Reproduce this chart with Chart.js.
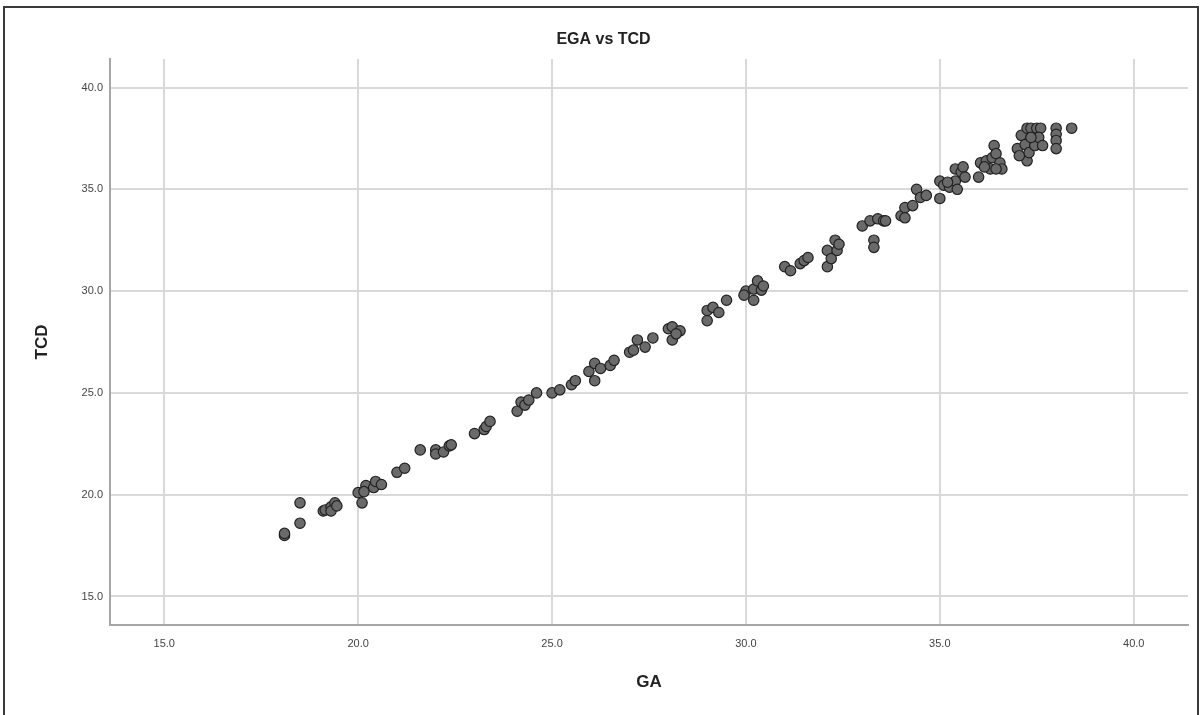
<!DOCTYPE html>
<html>
<head>
<meta charset="utf-8">
<script src="https://cdn.jsdelivr.net/npm/chart.js@4/dist/chart.umd.min.js"></script>
<style>
    html, body { margin: 0; padding: 0; background: #fff; overflow: hidden; }
    #wrap { position: relative; width: 1203px; height: 715px; }
    #frame {
        position: absolute; left: 3px; top: 6px; width: 1196px; height: 730px;
        border: 2px solid #3a3a3a; box-sizing: border-box; pointer-events: none;
    }
</style>
</head>
<body>
<div id="wrap">
    <canvas id="chart" width="1203" height="715"></canvas>
    <div id="frame"></div>
</div>
<script>
// 数据：GA（横轴）与 TCD（纵轴）
const gaValues = [
    18.1, 18.1, 18.5, 18.5, 19.1, 19.15, 19.3, 19.4, 19.3, 19.45,
    20.0, 20.1, 20.2, 20.15, 20.4, 20.45, 20.6, 21.0, 21.2, 21.6,
    22.0, 22.0, 22.2, 22.35, 22.4, 23.0, 23.25, 23.3, 23.4,
    24.1, 24.2, 24.3, 24.4, 24.6, 25.0, 25.2, 25.5, 25.6, 25.95,
    26.1, 26.1, 26.25, 26.5, 26.6, 27.0, 27.1, 27.2, 27.4, 27.6,
    28.0, 28.1, 28.3, 28.1, 28.2, 29.0, 29.0, 29.15, 29.3, 29.5,
    30.0, 29.95, 30.2, 30.2, 30.3, 30.4, 30.45, 31.0, 31.15, 31.4,
    31.5, 31.6, 32.1, 32.1, 32.2, 32.3, 32.35, 32.4, 33.0, 33.2,
    33.4, 33.55, 33.6, 33.3, 33.3,
    34.0, 34.1, 34.1, 34.3, 34.4, 34.5, 34.65, 35.0, 35.0, 35.1,
    35.25, 35.4, 35.4, 35.55, 35.6, 35.45, 35.65, 35.2, 36.0, 36.05,
    36.2, 36.35, 36.4, 36.45, 36.55, 36.6, 36.3, 36.45, 36.15, 37.0,
    37.1, 37.25, 37.35, 37.5, 37.6, 37.2, 37.25, 37.3, 37.45, 37.55,
    37.65, 37.05, 37.35, 38.0, 38.0, 38.0, 38.0, 38.4
];
const tcdValues = [
    18.0, 18.1, 18.6, 19.6, 19.2, 19.25, 19.4, 19.6, 19.2, 19.45,
    20.1, 19.6, 20.45, 20.15, 20.35, 20.65, 20.5, 21.1, 21.3, 22.2,
    22.2, 22.0, 22.1, 22.4, 22.45, 23.0, 23.2, 23.35, 23.6,
    24.1, 24.55, 24.4, 24.65, 25.0, 25.0, 25.15, 25.4, 25.6, 26.05,
    25.6, 26.45, 26.2, 26.35, 26.6, 27.0, 27.1, 27.6, 27.25, 27.7,
    28.15, 28.25, 28.05, 27.6, 27.9, 28.55, 29.05, 29.2, 28.95, 29.55,
    30.0, 29.8, 29.55, 30.1, 30.5, 30.05, 30.25, 31.2, 31.0, 31.35,
    31.5, 31.65, 31.2, 32.0, 31.6, 32.5, 32.0, 32.3, 33.2, 33.45,
    33.55, 33.45, 33.45, 32.5, 32.15,
    33.7, 34.1, 33.6, 34.2, 35.0, 34.6, 34.7, 35.4, 34.55, 35.2,
    35.1, 35.4, 36.0, 35.85, 36.1, 35.0, 35.6, 35.35, 35.6, 36.3,
    36.4, 36.55, 37.15, 36.75, 36.3, 36.0, 36.0, 36.0, 36.1, 37.0,
    37.65, 38.0, 38.0, 38.0, 38.0, 37.2, 36.4, 36.8, 37.15, 37.55,
    37.15, 36.65, 37.55, 38.0, 37.7, 37.4, 37.0, 38.0
];
const xTicks = [15, 20, 25, 30, 35, 40];
const yTicks = [15, 20, 25, 30, 35, 40];
const chartTitle = 'EGA vs TCD';
const xTitle = 'GA';
const yTitle = 'TCD';

const points = gaValues.map((x, i) => ({ x: x, y: tcdValues[i] }));

function fixTicks(list) {
    return (scale) => { scale.ticks = list.map(v => ({ value: v })); };
}

// 标题居中于整张图（而不是绘图区）
const pageTitle = {
    id: 'pageTitle',
    afterDraw(chart) {
        const ctx = chart.ctx;
        ctx.save();
        ctx.font = 'bold 16px "Liberation Sans", Arial, sans-serif';
        ctx.fillStyle = '#222';
        ctx.textAlign = 'center';
        ctx.textBaseline = 'middle';
        ctx.fillText(chartTitle, chart.width / 2 + 2, 40);
        ctx.restore();
    }
};

new Chart(document.getElementById('chart'), {
    type: 'scatter',
    data: {
        datasets: [{
            data: points,
            backgroundColor: '#6a6a6a',
            borderColor: '#222',
            borderWidth: 1.2,
            pointRadius: 5.2,
            pointHoverRadius: 5.2
        }]
    },
    options: {
        responsive: false,
        animation: false,
        events: [],
        layout: { padding: { left: 0, right: 15, top: 59, bottom: 0 } },
        plugins: {
            legend: { display: false },
            tooltip: { enabled: false },
            title: { display: false }
        },
        scales: {
            x: {
                type: 'linear',
                min: 13.6,
                max: 41.4,
                afterBuildTicks: fixTicks(xTicks),
                afterFit: (scale) => { scale.height = 90; },
                grid: { color: '#d9d9d9', lineWidth: 2, drawTicks: false },
                border: { color: '#a6a6a6', width: 2 },
                ticks: {
                    padding: 12,
                    color: '#444',
                    font: { family: 'Liberation Sans, Arial, sans-serif', size: 11 },
                    callback: (v) => Number(v).toFixed(1)
                },
                title: {
                    display: true,
                    text: xTitle,
                    color: '#222',
                    font: { family: 'Liberation Sans, Arial, sans-serif', size: 17, weight: 'bold' },
                    padding: { top: 0, bottom: 22 }
                }
            },
            y: {
                type: 'linear',
                min: 13.6,
                max: 41.4,
                afterBuildTicks: fixTicks(yTicks),
                afterFit: (scale) => { scale.width = 110; },
                grid: { color: '#d9d9d9', lineWidth: 2, drawTicks: false },
                border: { color: '#a6a6a6', width: 2 },
                ticks: {
                    padding: 7,
                    color: '#444',
                    font: { family: 'Liberation Sans, Arial, sans-serif', size: 11 },
                    callback: (v) => Number(v).toFixed(1)
                },
                title: {
                    display: true,
                    text: yTitle,
                    color: '#222',
                    font: { family: 'Liberation Sans, Arial, sans-serif', size: 17, weight: 'bold' },
                    padding: { top: 32, bottom: 0 }
                }
            }
        }
    },
    plugins: [pageTitle]
});
</script>
</body>
</html>
